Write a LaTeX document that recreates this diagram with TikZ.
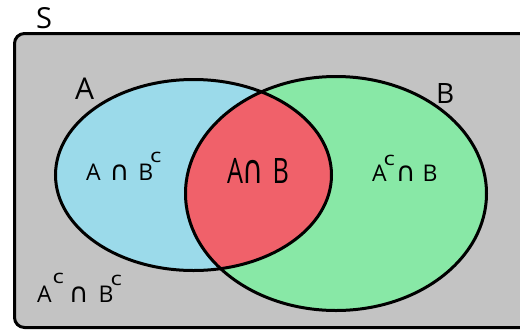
\documentclass[tikz,border=0pt]{standalone}
\usepackage{fontspec}
\setmainfont{Open Sans}
\newfontfamily\dvfont{DejaVu Sans}
\newcommand\ocap[1]{{\dvfont\fontsize{#1}{#1}\selectfont ∩}}
\newcommand\supc[1]{\raisebox{#1}{\scalebox{1.25}[1]{\fontsize{19}{19}\selectfont c}}}
\definecolor{sgray}{RGB}{195,195,195}
\definecolor{sblue}{RGB}{155,218,234}
\definecolor{sgreen}{RGB}{136,232,166}
\definecolor{sred}{RGB}{240,97,106}
\tikzset{
  outline/.style={draw=black,line width=3pt},
  lbl/.style={inner sep=0pt,outer sep=0pt,anchor=base west},
}
\begin{document}
\begin{tikzpicture}[x=1pt,y=-1pt]
\useasboundingbox (0,0) rectangle (520,330);
% universe
\draw[outline,fill=sgray,rounded corners=10pt] (14.5,33.5) rectangle (560,327.5);
% sets
\fill[sblue] (193.5,175) ellipse [x radius=138, y radius=95.5];
\fill[sgreen] (336,193.5) ellipse [x radius=150.5, y radius=117];
\begin{scope}
  \clip (193.5,175) ellipse [x radius=138, y radius=95.5];
  \fill[sred] (336,193.5) ellipse [x radius=150.5, y radius=117];
\end{scope}
\draw[outline] (193.5,175) ellipse [x radius=138, y radius=95.5];
\draw[outline] (336,193.5) ellipse [x radius=150.5, y radius=117];
% labels
\node[lbl,font=\fontsize{29}{29}\selectfont] (s) at (36,28) {S};
\node[lbl,font=\fontsize{30}{30}\selectfont] (la) at (75,99) {A};
\node[lbl,font=\fontsize{28}{28}\selectfont] (lb) at (436,103) {B};
\node[lbl,font=\fontsize{35}{35}\selectfont] (ab) at (227,183)
  {\scalebox{0.72}[1]{A\hspace{0pt}\ocap{40}\hspace{12pt}B}};
\node[lbl,font=\fontsize{23}{23}\selectfont] (abc) at (86,180)
  {A\hspace{9pt}\ocap{27}\hspace{9pt}B\hspace{-3pt}\supc{18pt}};
\node[lbl,font=\fontsize{23}{23}\selectfont] (acb) at (372,181)
  {A\hspace{-3pt}\supc{16pt}\hspace{1pt}\ocap{27}\hspace{7pt}B};
\node[lbl,font=\fontsize{23}{23}\selectfont] (acbc) at (37,302)
  {A\hspace{1pt}\supc{19pt}\hspace{5pt}\ocap{27}\hspace{10pt}B\hspace{-3pt}\supc{17pt}};
\end{tikzpicture}
\end{document}
